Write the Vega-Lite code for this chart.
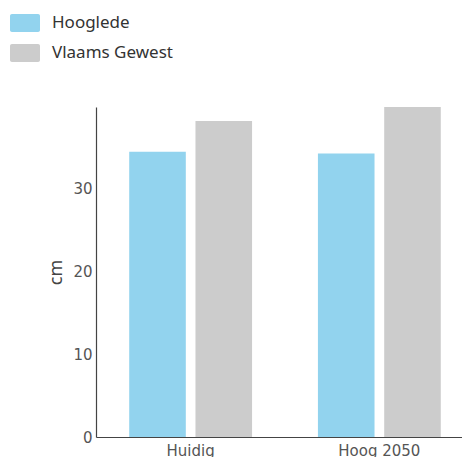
{
  "$schema": "https://vega.github.io/schema/vega-lite/v6.json",
  "autosize": {"type": "none"},
  "padding": {"left": 96, "top": 107, "right": 0, "bottom": 20},
  "width": 378,
  "height": 330,
  "background": "white",
  "data": {
    "values": [
      {"scenario": "Huidig", "gebied": "Hooglede", "cm": 34.4},
      {"scenario": "Huidig", "gebied": "Vlaams Gewest", "cm": 38.1},
      {"scenario": "Hoog 2050", "gebied": "Hooglede", "cm": 34.2},
      {"scenario": "Hoog 2050", "gebied": "Vlaams Gewest", "cm": 39.8}
    ]
  },
  "mark": {"type": "bar"},
  "encoding": {
    "x": {
      "field": "scenario",
      "type": "nominal",
      "sort": ["Huidig", "Hoog 2050"],
      "scale": {"paddingInner": 0.349, "paddingOuter": 0.176},
      "axis": {
        "title": null,
        "labelAngle": 0,
        "ticks": false,
        "labelPadding": 6,
        "labelFont": "DejaVu Sans",
        "labelFontSize": 15,
        "labelColor": "#555555",
        "domainColor": "#444444",
        "domainWidth": 1.2
      }
    },
    "xOffset": {
      "field": "gebied",
      "type": "nominal",
      "sort": ["Hooglede", "Vlaams Gewest"],
      "scale": {"paddingInner": 0.146, "paddingOuter": 0}
    },
    "y": {
      "field": "cm",
      "type": "quantitative",
      "scale": {"domain": [0, 39.8], "nice": false},
      "axis": {
        "title": "cm",
        "values": [0, 10, 20, 30],
        "grid": false,
        "ticks": false,
        "labelPadding": 4,
        "labelFont": "DejaVu Sans",
        "labelFontSize": 15,
        "labelColor": "#555555",
        "titleFont": "Noto Sans",
        "titleFontSize": 18,
        "titleFontWeight": "normal",
        "titleColor": "#444444",
        "titlePadding": 7,
        "domainColor": "#444444",
        "domainWidth": 1.2
      }
    },
    "color": {
      "field": "gebied",
      "type": "nominal",
      "sort": ["Hooglede", "Vlaams Gewest"],
      "scale": {"range": ["#92D3EE", "#CCCCCC"]},
      "legend": {
        "title": null,
        "orient": "none",
        "legendX": -86,
        "legendY": -99,
        "padding": 0,
        "rowPadding": 6,
        "symbolType": "M-0.87,-0.6 H0.87 A0.13,0.13 0 0 1 1,-0.47 V0.47 A0.13,0.13 0 0 1 0.87,0.6 H-0.87 A0.13,0.13 0 0 1 -1,0.47 V-0.47 A0.13,0.13 0 0 1 -0.87,-0.6 Z",
        "symbolSize": 900,
        "symbolStrokeWidth": 0,
        "symbolOpacity": 1,
        "labelOffset": 12,
        "labelFont": "Noto Sans",
        "labelFontSize": 17,
        "labelColor": "#333333"
      }
    }
  },
  "config": {"view": {"stroke": null}}
}
